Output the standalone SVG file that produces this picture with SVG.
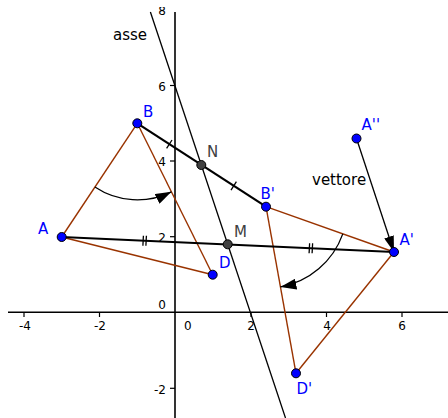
<svg xmlns="http://www.w3.org/2000/svg" width="448" height="418" viewBox="0 0 448 418">
<style>
.axis{stroke:#000;stroke-width:1.6;fill:none}
.tick{stroke:#000;stroke-width:1.2}
.al{font-family:"DejaVu Sans",sans-serif;font-size:12px;fill:#000}
.brown{stroke:#993300;stroke-width:1.4;fill:none}
.thick{stroke:#000;stroke-width:2.2;fill:none}
.thin{stroke:#000;stroke-width:1.3;fill:none}
.mark{stroke:#000;stroke-width:1.3}
.pt{fill:#0000ff;stroke:#000;stroke-width:1}
.gpt{fill:#404040;stroke:#000;stroke-width:1}
.bl{font-family:"DejaVu Sans",sans-serif;font-size:15px;fill:#0000ff}
.gl{font-family:"DejaVu Sans",sans-serif;font-size:15px;fill:#404040}
.kl{font-family:"DejaVu Sans",sans-serif;font-size:15px;fill:#000}
</style>
<defs>
<marker id="arr" markerUnits="userSpaceOnUse" markerWidth="16" markerHeight="11" refX="16" refY="5.5" orient="auto">
<path d="M0,0 L16,5.5 L0,11 Z" fill="#000"/>
</marker>
<marker id="varr" markerUnits="userSpaceOnUse" markerWidth="16" markerHeight="10" refX="16" refY="5" orient="auto">
<path d="M0,0 L16,5 L0,10 Z" fill="#000"/>
</marker>
<clipPath id="topclip"><rect x="0" y="7" width="448" height="411"/></clipPath>
</defs>
<rect width="448" height="418" fill="#fff"/>
<g id="axes">
<line class="axis" x1="8" y1="312.3" x2="448" y2="312.3"/>
<line class="axis" x1="175" y1="12" x2="175" y2="418"/>
<g class="tick">
<line x1="24" y1="312.3" x2="24" y2="317"/>
<line x1="99.5" y1="312.3" x2="99.5" y2="317"/>
<line x1="251" y1="312.3" x2="251" y2="317"/>
<line x1="326.5" y1="312.3" x2="326.5" y2="317"/>
<line x1="402" y1="312.3" x2="402" y2="317"/>
<line x1="170" y1="85.5" x2="175" y2="85.5"/>
<line x1="170" y1="161" x2="175" y2="161"/>
<line x1="170" y1="236.7" x2="175" y2="236.7"/>
<line x1="170" y1="388.3" x2="175" y2="388.3"/>
</g>
<g class="al">
<text x="25" y="330" text-anchor="middle">-4</text>
<text x="100" y="330" text-anchor="middle">-2</text>
<text x="184" y="330">0</text>
<text x="251" y="330" text-anchor="middle">2</text>
<text x="327" y="330" text-anchor="middle">4</text>
<text x="402" y="330" text-anchor="middle">6</text>
<text x="166" y="14.5" text-anchor="end" clip-path="url(#topclip)">8</text>
<text x="166" y="90.5" text-anchor="end">6</text>
<text x="166" y="166" text-anchor="end">4</text>
<text x="166" y="241.5" text-anchor="end">2</text>
<text x="166" y="309.3" text-anchor="end">0</text>
<text x="166" y="393.5" text-anchor="end">-2</text>
</g>
</g>
<g id="connectors">
<line class="brown" x1="61.7" y1="237" x2="137.3" y2="123.3"/>
<line class="brown" x1="137.3" y1="123.3" x2="212.7" y2="274.7"/>
<line class="brown" x1="61.7" y1="237" x2="212.7" y2="274.7"/>
<line class="brown" x1="266" y1="206.7" x2="394" y2="252"/>
<line class="brown" x1="266" y1="206.7" x2="296" y2="373.3"/>
<line class="brown" x1="394" y1="252" x2="296" y2="373.3"/>
<line class="thin" x1="150.4" y1="12" x2="285.5" y2="418"/>
<line class="thick" x1="137.3" y1="123.3" x2="266" y2="206.7"/>
<line class="thick" x1="61.7" y1="237" x2="394" y2="252"/>
<line class="thin" x1="356.5" y1="138.5" x2="394" y2="252" stroke-width="1.5" marker-end="url(#varr)"/>
<path class="thin" d="M94.9,187 A76.5,76.5 0 0 0 171.4,191.8" marker-end="url(#arr)"/>
<path class="thin" d="M342.8,233.9 A81.5,81.5 0 0 1 280.4,286.9" marker-end="url(#arr)"/>
<g class="mark">
<line x1="172" y1="140" x2="166.6" y2="148.4"/>
<line x1="236.4" y1="181.7" x2="231" y2="190.1"/>
<line x1="143.4" y1="235.7" x2="142.9" y2="245.7"/>
<line x1="146.4" y1="235.8" x2="145.9" y2="245.8"/>
<line x1="309.6" y1="243.2" x2="309.1" y2="253.2"/>
<line x1="312.6" y1="243.3" x2="312.1" y2="253.3"/>
</g>
</g>
<g id="asse"><text class="kl" x="113" y="40">asse</text></g>
<g id="vettore"><text class="kl" x="312" y="185">vettore</text></g>
<g id="A"><circle class="pt" cx="61.7" cy="237" r="4.5"/><text class="bl" x="38" y="234">A</text></g>
<g id="B"><circle class="pt" cx="137.3" cy="123.3" r="4.5"/><text class="bl" x="143" y="117">B</text></g>
<g id="D"><circle class="pt" cx="212.7" cy="274.7" r="4.5"/><text class="bl" x="219" y="268">D</text></g>
<g id="N"><circle class="gpt" cx="201.3" cy="165" r="4.5"/><text class="gl" x="207" y="157">N</text></g>
<g id="M"><circle class="gpt" cx="227.7" cy="244.3" r="4.5"/><text class="gl" x="234" y="237">M</text></g>
<g id="Bp"><circle class="pt" cx="266" cy="206.7" r="4.5"/><text class="bl" x="260.5" y="199">B'</text></g>
<g id="Ap"><circle class="pt" cx="394" cy="252" r="4.5"/><text class="bl" x="399.5" y="245">A'</text></g>
<g id="App"><circle class="pt" cx="356.5" cy="138.5" r="4.5"/><text class="bl" x="361.5" y="130">A''</text></g>
<g id="Dp"><circle class="pt" cx="296" cy="373.3" r="4.5"/><text class="bl" x="296.5" y="394">D'</text></g>
</svg>
